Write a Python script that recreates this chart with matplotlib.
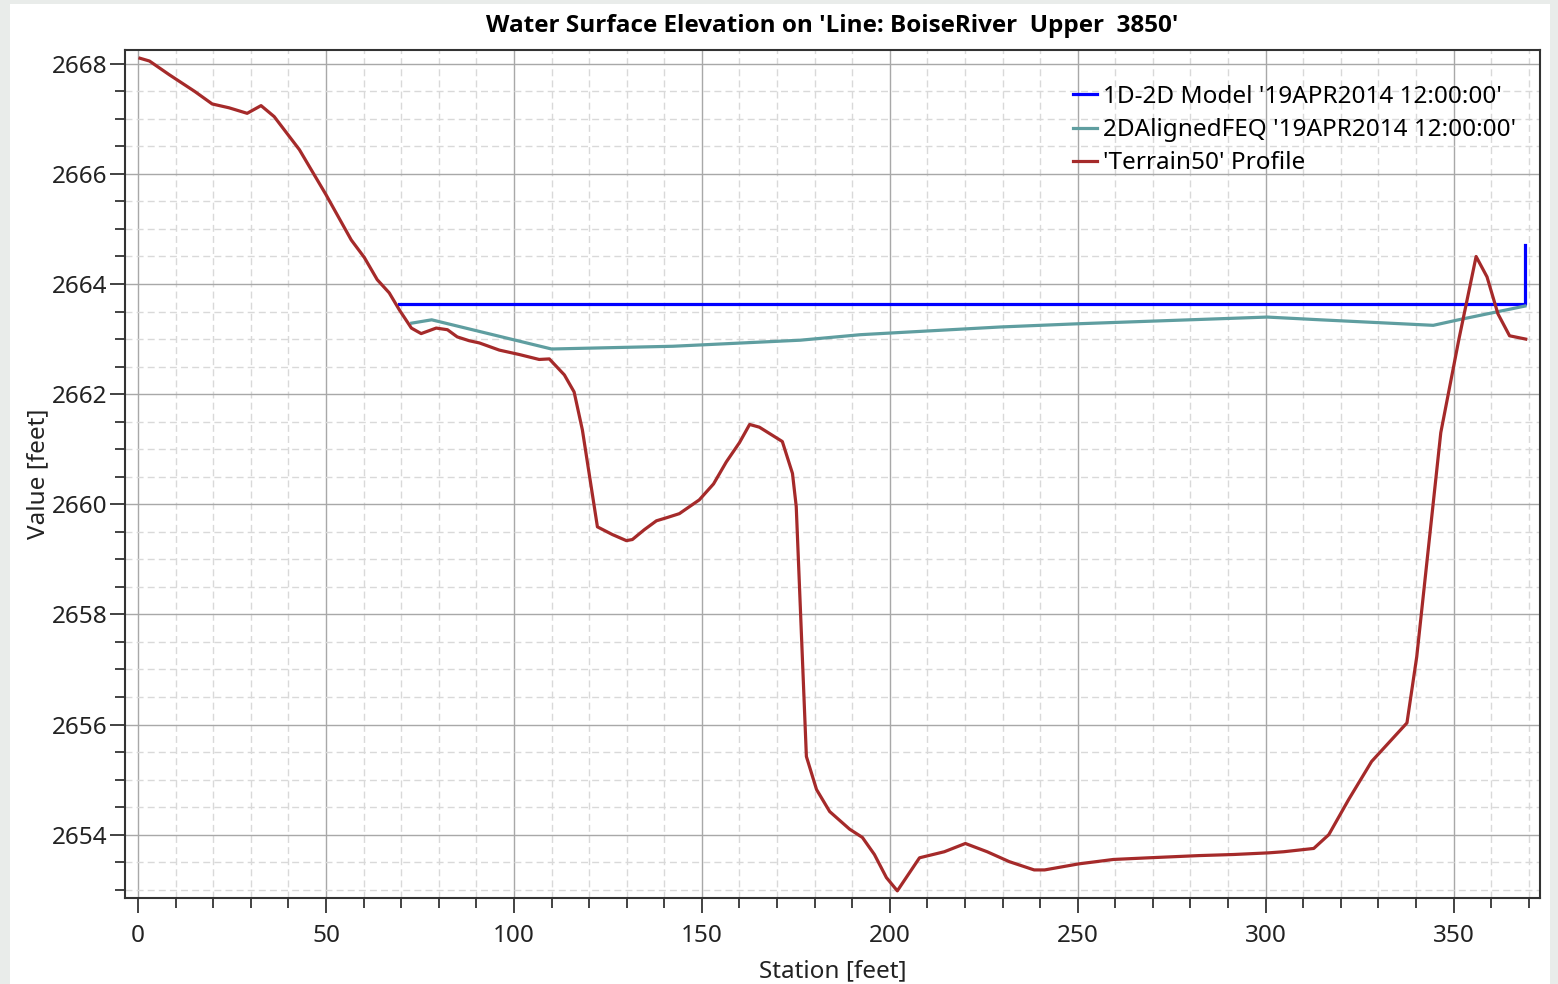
import matplotlib.pyplot as plt
from matplotlib.patches import Rectangle
from matplotlib.ticker import MultipleLocator

plt.rcParams['font.family'] = ['Noto Sans', 'DejaVu Sans']

# terrain profile along the line
terrain_x = [0.5, 3, 8.3, 15, 19.7, 24.2, 29, 32.7, 36.2, 42.9, 50, 56.7, 60.2,
             63.6, 66.8, 69.5, 72.7, 75.3, 79.3, 82.3, 84.9, 88.1, 90.8, 96.1,
             101.4, 106.7, 109.4, 113.4, 116, 118.2, 122.2, 126.2, 129.9, 131.5,
             134.7, 137.9, 140.8, 144, 149.3, 153.1, 156.5, 160, 162.7, 165.3,
             171.4, 174.1, 175.1, 177.8, 180.5, 184, 189.3, 192.7, 195.9, 199.1,
             202, 207.9, 214.5, 220.1, 225.9, 231.8, 238.4, 241.2, 250.3, 259.5,
             268.9, 282.2, 291.5, 300.8, 304.8, 312.8, 316.8, 322.1, 328.2,
             337.6, 340.2, 346.6, 351.4, 356, 358.9, 361.8, 364.9, 369.2]
terrain_y = [2668.1, 2668.05, 2667.8, 2667.5, 2667.27, 2667.2, 2667.1, 2667.24,
             2667.04, 2666.44, 2665.62, 2664.8, 2664.48, 2664.08, 2663.84,
             2663.53, 2663.2, 2663.1, 2663.2, 2663.17, 2663.04, 2662.97, 2662.93,
             2662.8, 2662.72, 2662.63, 2662.64, 2662.35, 2662.04, 2661.35,
             2659.59, 2659.45, 2659.34, 2659.36, 2659.54, 2659.7, 2659.76,
             2659.83, 2660.08, 2660.37, 2660.77, 2661.12, 2661.45, 2661.4,
             2661.14, 2660.56, 2659.96, 2655.42, 2654.82, 2654.42, 2654.1,
             2653.95, 2653.64, 2653.22, 2652.98, 2653.58, 2653.69, 2653.84,
             2653.69, 2653.51, 2653.36, 2653.36, 2653.47, 2653.55, 2653.58,
             2653.62, 2653.64, 2653.67, 2653.69, 2653.75, 2654.0, 2654.64,
             2655.33, 2656.03, 2657.23, 2661.3, 2662.99, 2664.5, 2664.13,
             2663.46, 2663.06, 2663.0]

# 1D-2D model water surface
model_x = [69.5, 369.0, 369.0]
model_y = [2663.64, 2663.64, 2664.71]

# 2D aligned FEQ water surface
feq_x = [72.8, 78.1, 110, 142.3, 176.2, 192.2, 202.8, 229.4, 250.7, 300.4,
         314.6, 344.6, 351.3, 369.0]
feq_y = [2663.29, 2663.35, 2662.82, 2662.87, 2662.98, 2663.08, 2663.12,
         2663.22, 2663.28, 2663.4, 2663.35, 2663.25, 2663.35, 2663.6]

fig = plt.figure(figsize=(15.58, 9.84), dpi=100, facecolor='#e9ecea')
fig.patches.append(Rectangle((10 / 1558, 0), 1540 / 1558, 1 - 4 / 984,
                             transform=fig.transFigure, facecolor='white',
                             edgecolor='none', zorder=-10))
ax = fig.add_axes([125 / 1558, 1 - 898 / 984, 1415 / 1558, 848 / 984])

ax.plot(model_x, model_y, color='#0000ff', lw=2.3,
        label="1D-2D Model '19APR2014 12:00:00'")
ax.plot(feq_x, feq_y, color='#5f9ea0', lw=2.3,
        label="2DAlignedFEQ '19APR2014 12:00:00'")
ax.plot(terrain_x, terrain_y, color='#a52a2a', lw=2.3,
        label="'Terrain50' Profile")

ax.set_xlim(-3.5, 373)
ax.set_ylim(2652.85, 2668.25)
ax.xaxis.set_major_locator(MultipleLocator(50))
ax.xaxis.set_minor_locator(MultipleLocator(10))
ax.yaxis.set_major_locator(MultipleLocator(2))
ax.yaxis.set_minor_locator(MultipleLocator(0.5))

ax.grid(which='major', color='#a8a8a8', lw=1.0)
ax.grid(which='minor', color='#d9d9d9', lw=1.0, ls=(0, (5, 3)))
ax.set_axisbelow(True)

ax.tick_params(which='major', length=11, width=1.2, labelsize=17.5,
               colors='#222222', pad=8)
ax.tick_params(axis='y', which='major', pad=1.5)
ax.tick_params(which='minor', length=7, width=1.2, colors='#222222')
for s in ax.spines.values():
    s.set_color('#333333')
    s.set_linewidth(1.5)

ax.set_title("Water Surface Elevation on 'Line: BoiseRiver  Upper  3850'",
             fontsize=17.5, fontweight='bold', family=['Open Sans', 'DejaVu Sans'],
             pad=13)
ax.set_xlabel('Station [feet]', fontsize=17.5, labelpad=8, color='#222222')
ax.set_ylabel('Value [feet]', fontsize=17.5, labelpad=1, color='#222222')

ax.legend(loc='upper left', frameon=False, fontsize=17.5,
          handlelength=1.0, handletextpad=0.25, labelspacing=0.38,
          borderpad=0, borderaxespad=0,
          bbox_to_anchor=((1073 - 125) / 1415, (898 - 85) / 848))

fig.savefig('out.png', dpi=100, facecolor=fig.get_facecolor())
